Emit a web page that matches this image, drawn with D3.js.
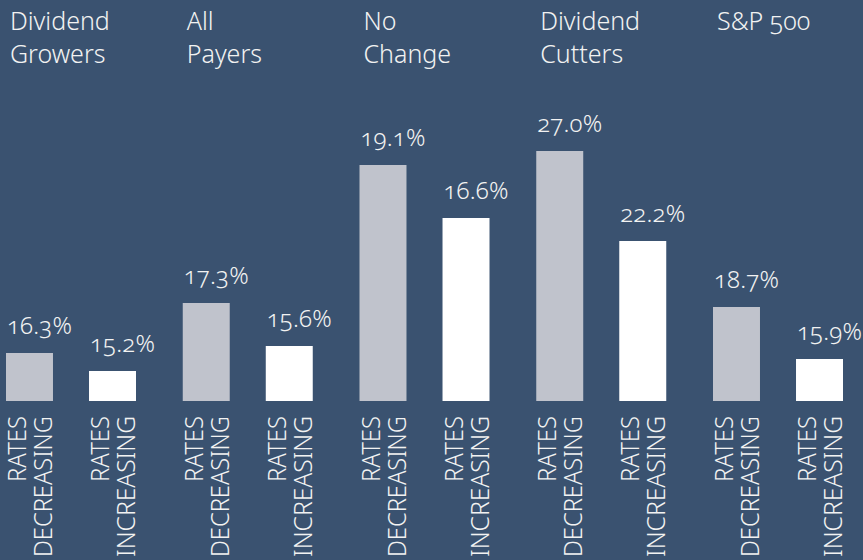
<!DOCTYPE html>
<html><head><meta charset="utf-8">
<script src="https://cdn.jsdelivr.net/npm/d3@7"></script>
<style>
html,body{margin:0;padding:0;background:#3a5270;}
svg{display:block;}
text{font-family:"Noto Sans","Open Sans",sans-serif;fill:#f2f2f2;font-weight:300;}
.onum{font-variant-numeric:oldstyle-nums;font-feature-settings:"onum" 1;}
</style></head>
<body>
<svg id="chart" width="863" height="560"></svg>
<script>
// ---- data ----
const groups = ["Dividend Growers", "All Payers", "No Change", "Dividend Cutters", "S&P 500"];
const groupLines = [["Dividend", "Growers"], ["All", "Payers"], ["No", "Change"], ["Dividend", "Cutters"], ["S&P 500"]];
const series = ["Rates Decreasing", "Rates Increasing"];
const seriesLines = [["RATES", "DECREASING"], ["RATES", "INCREASING"]];
// labelled values (%)
const decreasing = [16.3, 17.3, 19.1, 27.0, 18.7];
const increasing = [15.2, 15.6, 16.6, 22.2, 15.9];
// bar lengths as drawn in the source (index, tallest bar = 100)
const decreasingDrawn = [19.2, 39.2, 94.4, 100, 37.6];
const increasingDrawn = [12.0, 22.0, 73.2, 64.0, 16.8];
const colors = ["#c0c3cc", "#ffffff"];

// ---- chart ----
const W = 863, H = 560;
const svg = d3.select("#chart");
svg.append("rect").attr("width", W).attr("height", H).attr("fill", "#3a5270");

const x0 = d3.scaleBand().domain(groups).range([6, 6 + 5 * 176.75]).paddingInner(0).paddingOuter(0).align(0);
const x1 = d3.scaleBand().domain(series).range([0, 130]).paddingInner(0.434).paddingOuter(0);
const y = d3.scaleLinear().domain([0, 100]).range([401, 151]);

const rows = [];
groups.forEach((g, i) => {
  rows.push({g, s: series[0], si: 0, v: decreasing[i], d: decreasingDrawn[i]});
  rows.push({g, s: series[1], si: 1, v: increasing[i], d: increasingDrawn[i]});
});

// group headers
const hdr = svg.append("g");
groups.forEach((g, i) => {
  const t = hdr.append("text").attr("class", "onum")
    .attr("x", x0(g) + 4).attr("y", 30)
    .attr("font-size", 25);
  groupLines[i].forEach((ln, k) => {
    t.append("tspan").attr("x", x0(g) + 4).attr("dy", k === 0 ? 0 : 33).text(ln);
  });
});

// bars
svg.append("g").selectAll("rect").data(rows).join("rect")
  .attr("x", d => x0(d.g) + x1(d.s))
  .attr("width", x1.bandwidth())
  .attr("y", d => y(d.d))
  .attr("height", d => y(0) - y(d.d))
  .attr("fill", d => colors[d.si]);

// value labels
svg.append("g").selectAll("text").data(rows).join("text")
  .attr("class", "onum")
  .attr("x", d => x0(d.g) + x1(d.s) + 1)
  .attr("y", d => y(d.d) - 19)
  .attr("font-size", 24)
  .attr("letter-spacing", 0.2)
  .text(d => d3.format(".1f")(d.v) + "%");

// rotated series labels
const lab = svg.append("g");
rows.forEach(d => {
  const bx = x0(d.g) + x1(d.s);
  seriesLines[d.si].forEach((ln, k) => {
    lab.append("text")
      .attr("transform", `translate(${bx + 20 + k * 26},416) rotate(-90)`)
      .attr("text-anchor", "end")
      .attr("font-size", 25)
      .attr("textLength", ln.length > 6 ? 141 : 66)
      .attr("lengthAdjust", "spacingAndGlyphs")
      .text(ln);
  });
});
</script>
</body></html>
